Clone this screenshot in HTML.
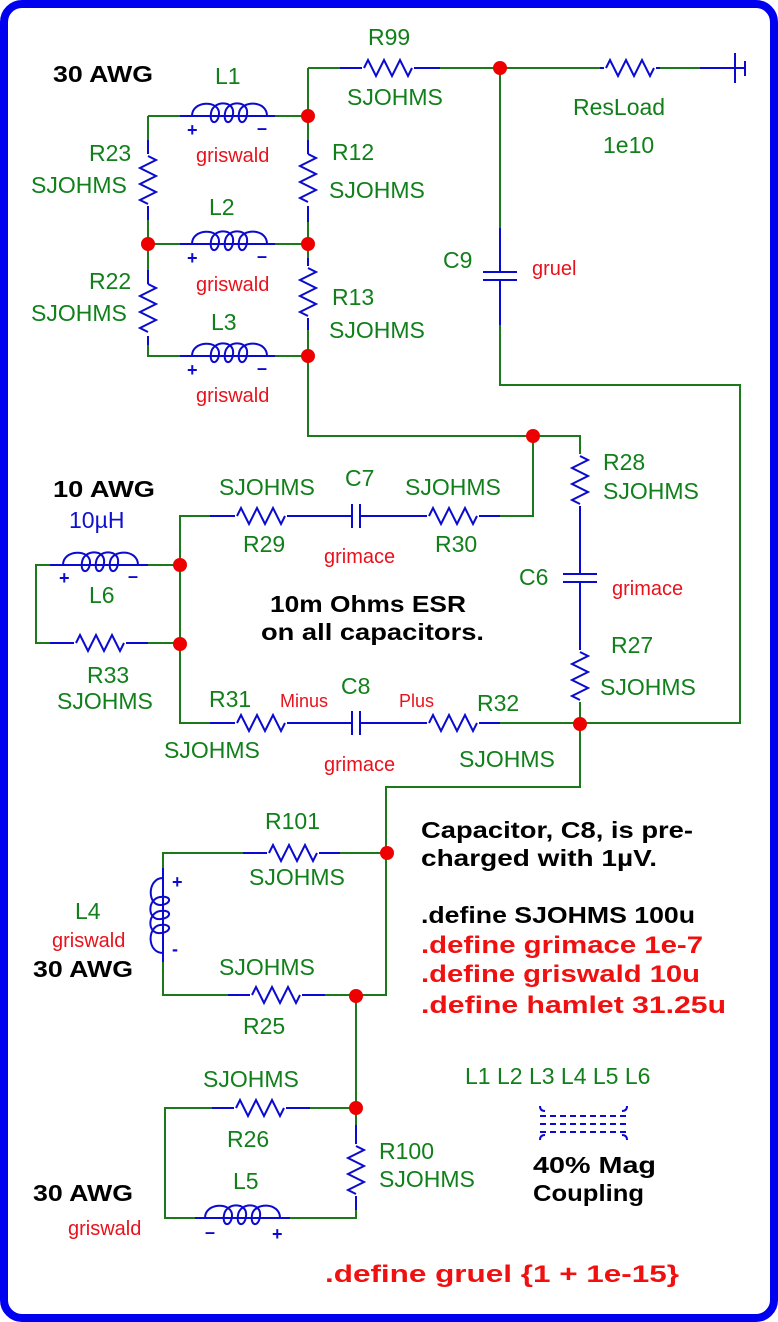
<!DOCTYPE html>
<html><head><meta charset="utf-8"><style>
html,body{margin:0;padding:0;background:#fff}
svg{display:block}
text{font-family:"Liberation Sans","DejaVu Sans",sans-serif}
.g{fill:#11801b;font-size:23px}
.r{fill:#e8121c;font-size:20px}
.rs{fill:#e8121c;font-size:18px}
.b{fill:#000;font-size:23px;font-weight:bold}
.rb{fill:#f01010;font-size:24px;font-weight:bold}
.w{stroke:#1a7a1a;stroke-width:2;fill:none}
.c{stroke:#0a0ad0;stroke-width:2;fill:none}
</style></head><body>
<svg width="778" height="1322" viewBox="0 0 778 1322" xmlns="http://www.w3.org/2000/svg">
<defs>
<path id="rh" d="M-24 0 l4 -8 l8 16 l8 -16 l8 16 l8 -16 l8 16 l4 -8" class="c"/>
<path id="rv" d="M0 -24 l8 4 l-16 8 l16 8 l-16 8 l16 8 l-16 8 l8 4" class="c"/>
<path id="ind" d="M0 0 C0 -16 28 -16 27 -2 C26 9 17 9 19 -3 C21 -16 43 -16 41 -2 C40 9 31 9 33 -3 C35 -16 57 -16 55 -2 C54 9 45 9 47 -3 C49 -16 75 -16 75 0" class="c"/>
</defs>
<rect x="4" y="4" width="770" height="1314" rx="18" fill="#fff" stroke="#0000f0" stroke-width="8"/>

<g class="w">
<path d="M308 68 H735"/>
<path d="M308 68 V436 H580 V723"/>
<path d="M148 116 H308 M148 116 V356 H308 M148 244 H308"/>
<path d="M500 68 V385 H740 V723 H580"/>
<path d="M533 436 V516 H180 V723 H580 V787 H386 V995 H163 V853 H386"/>
<path d="M180 565 H36 V643 H180"/>
<path d="M356 995 V1218 H165 V1108 H356"/>
</g>
<g class="c">
<path d="M600 68 H660 M700 68 H745"/>
<path d="M735 53 V83 M745 61 V76" />
<path d="M340 68 H440"/>
<path d="M180 116 H275 M180 244 H275 M180 356 H275"/>
<path d="M148 140 V220 M148 270 V345 M308 140 V222 M308 258 V330"/>
<path d="M500 228 V325"/>
<path d="M483 272 H517 M483 280 H517"/>
<path d="M210 516 H500 M210 723 H500"/>
<path d="M352 504 V528 M360 504 V528 M352 711 V735 M360 711 V735"/>
<path d="M580 455 V700"/>
<path d="M563 574 H597 M563 582 H597"/>
<path d="M50 565 H148 M50 643 H148"/>
<path d="M243 853 H340 M228 995 H325 M212 1108 H310 M195 1218 H290"/>
<path d="M163 868 V962 M356 1125 V1210"/>
</g>
<g fill="#fff">
<rect x="362" y="58" width="52" height="20"/><use href="#rh" x="388" y="68"/>
<rect x="604" y="58" width="52" height="20"/><use href="#rh" x="630" y="68"/>
<rect x="138" y="154" width="20" height="52"/><use href="#rv" x="148" y="180"/>
<rect x="298" y="154" width="20" height="52"/><use href="#rv" x="308" y="178"/>
<rect x="138" y="284" width="20" height="52"/><use href="#rv" x="148" y="308"/>
<rect x="298" y="266" width="20" height="52"/><use href="#rv" x="308" y="292"/>
<rect x="235" y="506" width="52" height="20"/><use href="#rh" x="261" y="516"/>
<rect x="427" y="506" width="52" height="20"/><use href="#rh" x="453" y="516"/>
<rect x="235" y="713" width="52" height="20"/><use href="#rh" x="261" y="723"/>
<rect x="427" y="713" width="52" height="20"/><use href="#rh" x="453" y="723"/>
<rect x="74" y="633" width="52" height="20"/><use href="#rh" x="100" y="643"/>
<rect x="570" y="454" width="20" height="52"/><use href="#rv" x="580" y="480"/>
<rect x="570" y="650" width="20" height="52"/><use href="#rv" x="580" y="676"/>
<rect x="267" y="843" width="52" height="20"/><use href="#rh" x="293" y="853"/>
<rect x="250" y="985" width="52" height="20"/><use href="#rh" x="276" y="995"/>
<rect x="234" y="1098" width="52" height="20"/><use href="#rh" x="260" y="1108"/>
<rect x="346" y="1144" width="20" height="52"/><use href="#rv" x="356" y="1170"/>
</g>
<rect x="353" y="505" width="6" height="22" fill="#fff"/>
<rect x="353" y="712" width="6" height="22" fill="#fff"/>
<rect x="484" y="273" width="32" height="6" fill="#fff"/>
<rect x="564" y="575" width="32" height="6" fill="#fff"/>
<g fill="none">
<use href="#ind" x="192" y="116"/><use href="#ind" x="192" y="244"/><use href="#ind" x="192" y="356"/>
<use href="#ind" x="63" y="565"/>
<use href="#ind" x="205" y="1218"/>
<g transform="translate(163,878) rotate(90) scale(1,-1)"><use href="#ind" x="0" y="0"/></g>
</g>
<g class="c">
<path d="M540 1106 q0 5 5 5 M627 1106 q0 5 -5 5 M540 1140 q0 -5 5 -5 M627 1140 q0 -5 -5 -5"/>
<path d="M540 1116 H628 M540 1124 H628 M540 1132 H628" stroke-dasharray="6 4"/>
</g>
<g fill="#ee0000">
<circle cx="500" cy="68" r="7"/><circle cx="308" cy="116" r="7"/><circle cx="148" cy="244" r="7"/><circle cx="308" cy="244" r="7"/><circle cx="308" cy="356" r="7"/><circle cx="533" cy="436" r="7"/><circle cx="180" cy="565" r="7"/><circle cx="180" cy="644" r="7"/><circle cx="580" cy="724" r="7"/><circle cx="387" cy="853" r="7"/><circle cx="356" cy="996" r="7"/><circle cx="356" cy="1108" r="7"/>
</g>
<g fill="#0a0ad0" font-size="18" font-family="Liberation Sans, sans-serif" font-weight="bold">
<text x="187" y="136">+</text><text x="257" y="134">–</text>
<text x="187" y="264">+</text><text x="257" y="262">–</text>
<text x="187" y="376">+</text><text x="257" y="374">–</text>
<text x="59" y="584">+</text><text x="128" y="582">–</text>
<text x="172" y="888">+</text><text x="172" y="955">-</text>
<text x="205" y="1238">–</text><text x="272" y="1240">+</text>
</g>
<g class="g">
<text x="368" y="45">R99</text><text x="347" y="105">SJOHMS</text>
<text x="573" y="115">ResLoad</text><text x="603" y="153">1e10</text>
<text x="215" y="84">L1</text><text x="89" y="161">R23</text><text x="31" y="193">SJOHMS</text>
<text x="332" y="160">R12</text><text x="329" y="198">SJOHMS</text>
<text x="209" y="215">L2</text><text x="89" y="289">R22</text><text x="31" y="321">SJOHMS</text>
<text x="332" y="305">R13</text><text x="329" y="338">SJOHMS</text>
<text x="211" y="330">L3</text><text x="443" y="268">C9</text>
<text x="89" y="603">L6</text><text x="87" y="683">R33</text><text x="57" y="709">SJOHMS</text>
<text x="219" y="495">SJOHMS</text><text x="243" y="552">R29</text>
<text x="345" y="486">C7</text><text x="405" y="495">SJOHMS</text><text x="435" y="552">R30</text>
<text x="603" y="470">R28</text><text x="603" y="499">SJOHMS</text>
<text x="519" y="585">C6</text><text x="611" y="653">R27</text><text x="600" y="695">SJOHMS</text>
<text x="209" y="707">R31</text><text x="341" y="694">C8</text><text x="477" y="711">R32</text>
<text x="164" y="758">SJOHMS</text><text x="459" y="767">SJOHMS</text>
<text x="265" y="829">R101</text><text x="249" y="885">SJOHMS</text>
<text x="75" y="919">L4</text><text x="219" y="975">SJOHMS</text><text x="243" y="1034">R25</text>
<text x="203" y="1087">SJOHMS</text><text x="227" y="1147">R26</text>
<text x="379" y="1159">R100</text><text x="379" y="1187">SJOHMS</text>
<text x="233" y="1189">L5</text>
<text x="465" y="1084">L1 L2 L3 L4 L5 L6</text>
</g>
<text x="69" y="528" fill="#1010d0" font-size="23">10µH</text>
<g class="r">
<text x="196" y="162">griswald</text><text x="196" y="291">griswald</text><text x="196" y="402">griswald</text>
<text x="532" y="275">gruel</text>
<text x="324" y="563">grimace</text><text x="612" y="595">grimace</text><text x="324" y="771">grimace</text>
<text x="52" y="947">griswald</text><text x="68" y="1235">griswald</text>
</g>
<g class="rs"><text x="280" y="707">Minus</text><text x="399" y="707">Plus</text></g>
<g class="b">
<text x="53" y="82" textLength="100" lengthAdjust="spacingAndGlyphs">30 AWG</text>
<text x="53" y="497" textLength="102" lengthAdjust="spacingAndGlyphs">10 AWG</text>
<text x="270" y="612" textLength="196" lengthAdjust="spacingAndGlyphs">10m Ohms ESR</text>
<text x="261" y="640" textLength="223" lengthAdjust="spacingAndGlyphs">on all capacitors.</text>
<text x="33" y="977" textLength="100" lengthAdjust="spacingAndGlyphs">30 AWG</text>
<text x="33" y="1201" textLength="100" lengthAdjust="spacingAndGlyphs">30 AWG</text>
<text x="421" y="838" textLength="272" lengthAdjust="spacingAndGlyphs">Capacitor, C8, is pre-</text>
<text x="421" y="866" textLength="236" lengthAdjust="spacingAndGlyphs">charged with 1µV.</text>
<text x="421" y="923" textLength="274" lengthAdjust="spacingAndGlyphs">.define SJOHMS 100u</text>
<text x="533" y="1173" textLength="123" lengthAdjust="spacingAndGlyphs">40% Mag</text>
<text x="533" y="1201" textLength="111" lengthAdjust="spacingAndGlyphs">Coupling</text>
</g>
<g class="rb">
<text x="421" y="953" textLength="282" lengthAdjust="spacingAndGlyphs">.define grimace 1e-7</text>
<text x="421" y="982" textLength="279" lengthAdjust="spacingAndGlyphs">.define griswald 10u</text>
<text x="421" y="1013" textLength="305" lengthAdjust="spacingAndGlyphs">.define hamlet 31.25u</text>
<text x="325" y="1282" textLength="354" lengthAdjust="spacingAndGlyphs">.define gruel {1 + 1e-15}</text>
</g>
</svg>
</body></html>
